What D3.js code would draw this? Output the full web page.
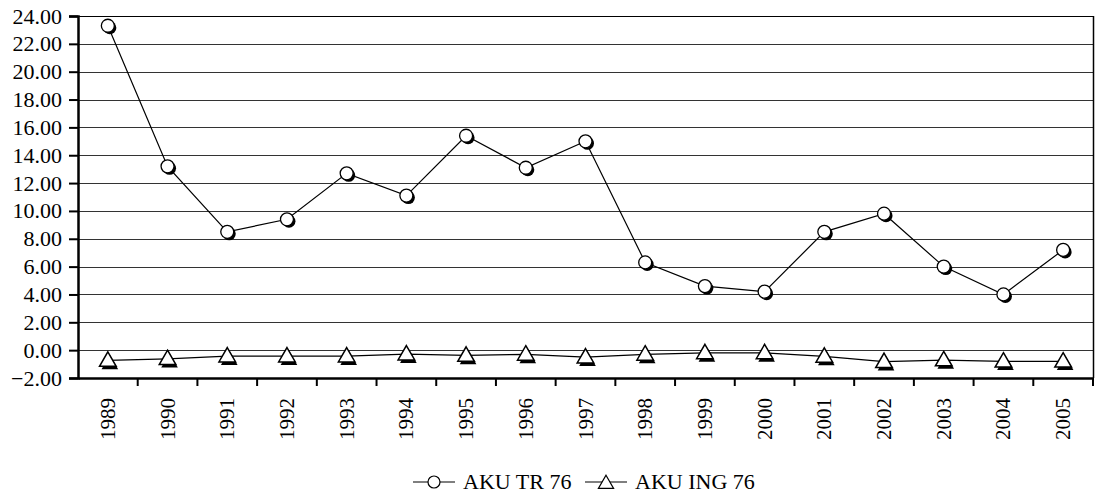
<!DOCTYPE html>
<html><head><meta charset="utf-8">
<script src="https://cdn.jsdelivr.net/npm/d3@7"></script>
<style>body{margin:0;background:#fff}svg{display:block}svg text{font-family:"Liberation Serif","Times New Roman",serif !important;fill:#000}</style>
</head><body><svg id="c" width="1097" height="495" font-family="Liberation Serif, serif"></svg>
<script>
const years = ["1989","1990","1991","1992","1993","1994","1995","1996","1997","1998","1999","2000","2001","2002","2003","2004","2005"];
const akuTR = [23.3,13.2,8.5,9.4,12.7,11.1,15.4,13.1,15.0,6.3,4.6,4.2,8.5,9.8,6.0,4.0,7.2];
const akuING = [-0.74,-0.62,-0.43,-0.43,-0.43,-0.29,-0.38,-0.3,-0.5,-0.3,-0.2,-0.2,-0.45,-0.83,-0.71,-0.8,-0.8];
const yTicks = [-2,0,2,4,6,8,10,12,14,16,18,20,22,24];
const seriesNames = ["AKU TR 76","AKU ING 76"];
const FONT = "Liberation Serif, Times New Roman, serif";

const svg = d3.select("#c");
const L=78,R=1093,T=16,B=378;
const x = d3.scaleBand().domain(years).range([L,R]);
const y = d3.scaleLinear().domain([-2,24]).range([B,T]);

svg.append("g").selectAll("line").data(yTicks.filter(v=>v>-2)).join("line")
  .attr("x1",L).attr("x2",R).attr("y1",d=>Math.round(y(d))+0.5).attr("y2",d=>Math.round(y(d))+0.5)
  .attr("stroke",d=>d===24?"#000":"#333").attr("stroke-width",1);
svg.append("line").attr("x1",R+0.5).attr("x2",R+0.5).attr("y1",T).attr("y2",B).attr("stroke","#000").attr("stroke-width",1.5);

const ya = svg.append("g").attr("transform",`translate(${L},0)`)
  .call(d3.axisLeft(y).tickValues(yTicks).tickFormat(d3.format(".2f")).tickSize(9).tickPadding(7));
ya.attr("font-family",FONT).attr("font-size",22);
ya.select(".domain").attr("stroke","#000").attr("stroke-width",2.5);
ya.selectAll(".tick line").attr("stroke","#000").attr("stroke-width",2);
ya.selectAll("text").attr("font-size",22).style("font-size","22px").style("font-family",FONT);

const xa = svg.append("g").attr("transform",`translate(0,${B})`)
  .call(d3.axisBottom(x).tickSize(0).tickPadding(0));
xa.select(".domain").attr("stroke","#000").attr("stroke-width",2.5);
xa.selectAll(".tick text").remove();
const bounds = years.map(d=>x(d)).concat([R]);
xa.selectAll("line.bt").data(bounds.slice(1)).join("line").attr("class","bt")
  .attr("x1",d=>d).attr("x2",d=>d).attr("y1",0).attr("y2",8).attr("stroke","#000").attr("stroke-width",2);
xa.selectAll("text.yl").data(years).join("text").attr("class","yl")
  .attr("transform",d=>`translate(${x(d)+x.bandwidth()/2+7},20) rotate(-90)`)
  .attr("text-anchor","end").style("font-size","21px").style("font-family",FONT).text(d=>d);

const cx = d=>x(d)+x.bandwidth()/2;
const line = d3.line().x((d,i)=>cx(years[i])).y(d=>y(d));
svg.append("path").datum(akuTR).attr("d",line).attr("fill","none").attr("stroke","#000").attr("stroke-width",1.2);
svg.append("path").datum(akuING).attr("d",line).attr("fill","none").attr("stroke","#000").attr("stroke-width",1.2);

const tri = d3.symbol().type(d3.symbolTriangle).size(120);
function circles(g, data){
  g.selectAll("circle.s").data(data).join("circle").attr("class","s")
   .attr("cx",(d,i)=>cx(years[i])+2).attr("cy",d=>y(d)+2).attr("r",6.5).attr("fill","#000");
  g.selectAll("circle.m").data(data).join("circle").attr("class","m")
   .attr("cx",(d,i)=>cx(years[i])).attr("cy",d=>y(d)).attr("r",6.5).attr("fill","#fff").attr("stroke","#000").attr("stroke-width",1.3);
}
function tris(g, data){
  g.selectAll("path.s").data(data).join("path").attr("class","s")
   .attr("transform",(d,i)=>`translate(${cx(years[i])+2},${y(d)+4})`).attr("d",tri).attr("fill","#000");
  g.selectAll("path.m").data(data).join("path").attr("class","m")
   .attr("transform",(d,i)=>`translate(${cx(years[i])},${y(d)+1})`).attr("d",tri).attr("fill","#fff").attr("stroke","#000").attr("stroke-width",1.5);
}
circles(svg.append("g"), akuTR);
tris(svg.append("g"), akuING);

const lg = svg.append("g").attr("transform","translate(0,482)");
lg.append("line").attr("x1",413).attr("x2",455).attr("y1",0).attr("y2",0).attr("stroke","#000").attr("stroke-width",1.2);
lg.append("circle").attr("cx",434).attr("cy",0).attr("r",6).attr("fill","#fff").attr("stroke","#000").attr("stroke-width",1.2);
lg.append("text").attr("x",463).attr("y",7).style("font-size","22px").style("font-family",FONT).text(seriesNames[0]);
lg.append("line").attr("x1",585).attr("x2",627).attr("y1",0).attr("y2",0).attr("stroke","#000").attr("stroke-width",1.2);
lg.append("path").attr("transform","translate(606,2)").attr("d",d3.symbol().type(d3.symbolTriangle).size(100)).attr("fill","#fff").attr("stroke","#000").attr("stroke-width",1.2);
lg.append("text").attr("x",635).attr("y",7).style("font-size","22px").style("font-family",FONT).text(seriesNames[1]);
</script></body></html>
